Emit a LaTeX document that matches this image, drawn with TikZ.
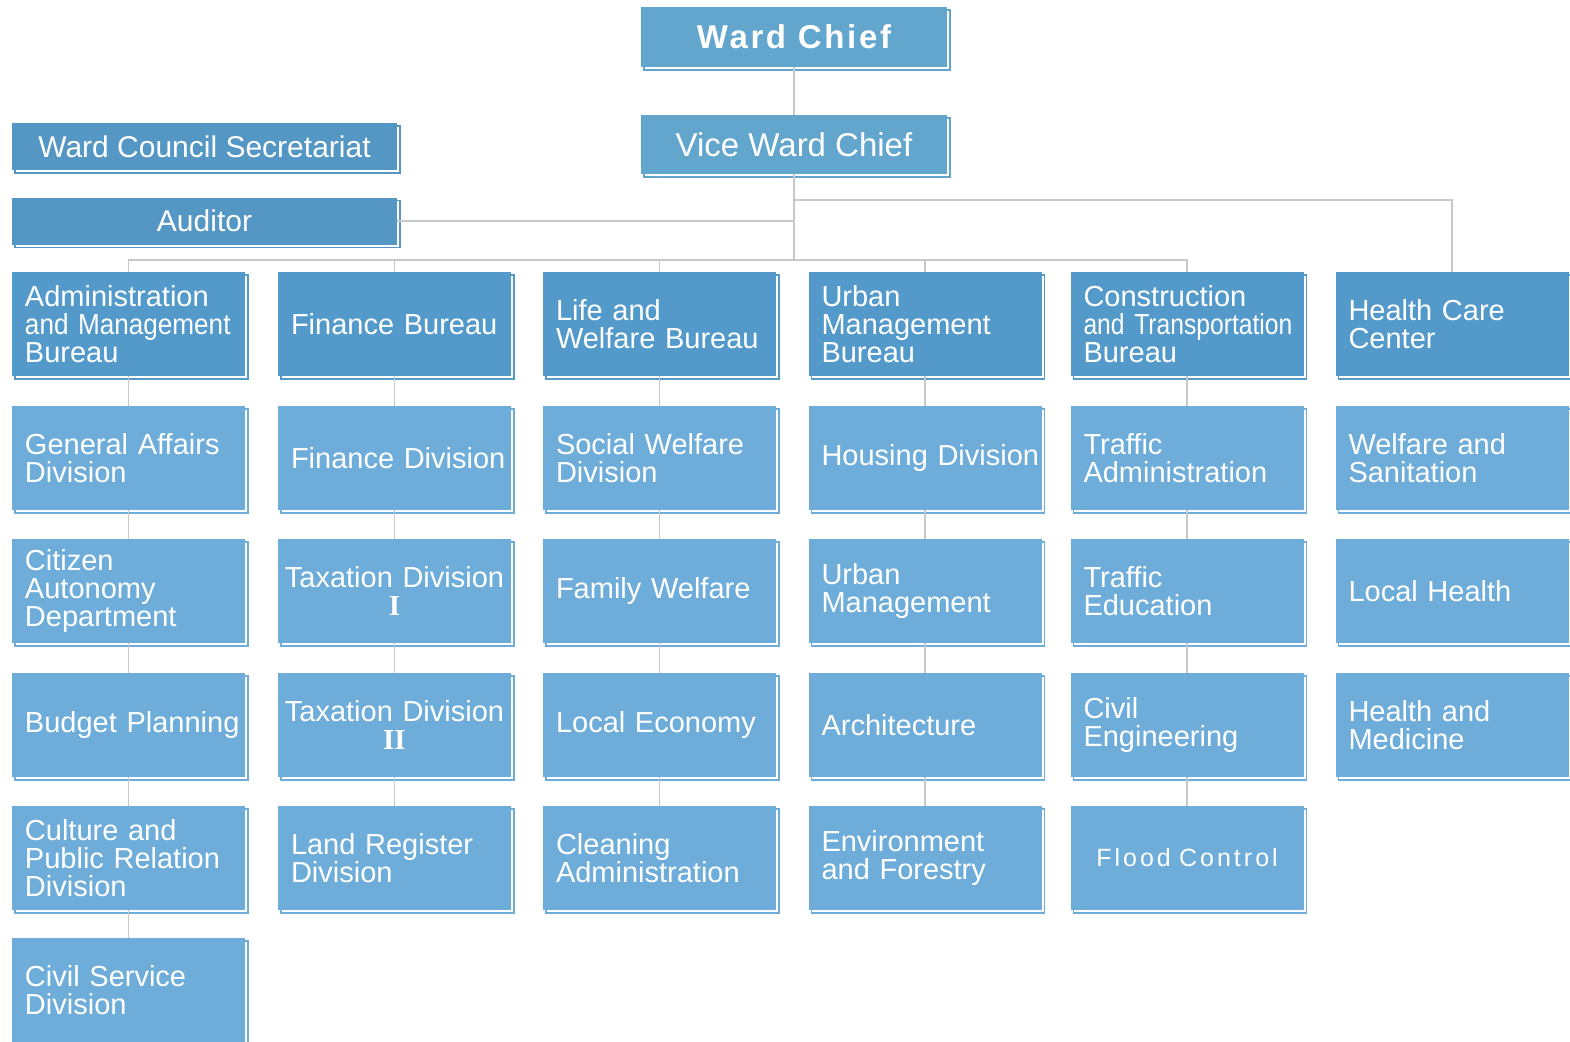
\documentclass[tikz,border=0pt]{standalone}
\usepackage{fontspec}
\setmainfont{Liberation Sans}
\newfontfamily\numfont{Liberation Serif}
\newfontface\narrowfont{Liberation Sans}[FakeStretch=0.9]
\newfontface\narrowerfont{Liberation Sans}[FakeStretch=0.85]
\usetikzlibrary{shadows}
\definecolor{chiefblue}{RGB}{98,166,206}
\definecolor{sideblue}{RGB}{84,151,197}
\definecolor{bureaublue}{RGB}{83,154,203}
\definecolor{divblue}{RGB}{110,173,217}
\definecolor{linegray}{RGB}{200,200,200}
\hfuzz=30pt
\hyphenpenalty=10000
\exhyphenpenalty=10000
\begin{document}
\begin{tikzpicture}[x=0.5pt,y=-0.5pt,
	box/.style={rectangle,inner sep=0pt,text=white,fill=#1,
		general shadow={draw=#1,fill=white,line width=0.75pt,shadow xshift=1.5pt,shadow yshift=-1.5pt}},
	unit/.style={box=#1,minimum width=116.5pt,minimum height=52pt,text width=103.5pt,align=left,
		font=\fontsize{14.5}{14}\selectfont},
	bureau/.style={unit=bureaublue},
	division/.style={unit=divblue},
	chief/.style={box=chiefblue,minimum width=153pt,minimum height=30pt},
	side/.style={box=sideblue,minimum width=192.5pt,minimum height=23.5pt,font=\fontsize{15}{16}\selectfont},
	conn/.style={draw=linegray,line width=0.85pt}]
\useasboundingbox (0,0) rectangle (1570,1041);
\node[chief,font={\fontsize{16.5}{18}\selectfont\bfseries\addfontfeatures{LetterSpace=8}}] (wc) at (794,37) {Ward Chief};
\node[chief,minimum height=29.5pt,font=\fontsize{16.5}{18}\selectfont] (vwc) at (794,144.5) {Vice Ward Chief};
\node[side] (wcs) at (204.5,146.5) {Ward Council Secretariat};
\node[side] (aud) at (204.5,221) {Auditor};
% bureaus
\node[bureau] (adm) at (128.5,324) {Administration\\\mbox{\narrowfont and Management}\\Bureau};
\node[bureau] (fin) at (394.5,324) {\mbox{Finance Bureau}};
\node[bureau] (life) at (659.5,324) {Life and\\Welfare Bureau};
\node[bureau] (urb) at (925,324) {Urban\\Management\\Bureau};
\node[bureau] (con) at (1187,324) {Construction\\\mbox{\narrowerfont and Transportation}\\Bureau};
\node[bureau] (hcc) at (1452,324) {Health Care\\Center};
% divisions
\node[division] (ga) at (128.5,458) {General Affairs\\Division};
\node[division] (cad) at (128.5,591) {Citizen\\Autonomy\\Department};
\node[division] (bp) at (128.5,725) {\mbox{Budget Planning}};
\node[division] (cpr) at (128.5,858) {Culture and\\Public Relation\\Division};
\node[division] (csd) at (128.5,990) {Civil Service\\Division};
\node[division] (fd) at (394.5,458) {\mbox{Finance Division}};
\node[division,align=center,text width=112pt] (td1) at (394.5,591) {Taxation Division\\{\numfont\bfseries I}};
\node[division,align=center,text width=112pt] (td2) at (394.5,725) {Taxation Division\\{\numfont\bfseries II}};
\node[division] (lrd) at (394.5,858) {Land Register\\Division};
\node[division] (swd) at (659.5,458) {Social Welfare\\Division};
\node[division] (fw) at (659.5,591) {Family Welfare};
\node[division] (le) at (659.5,725) {Local Economy};
\node[division] (cla) at (659.5,858) {Cleaning\\Administration};
\node[division] (hd) at (925,458) {\mbox{Housing Division}};
\node[division] (um) at (925,591) {Urban\\Management};
\node[division] (arc) at (925,725) {Architecture};
\node[division] (ef) at (925,858) {Environment\\and Forestry};
\node[division] (ta) at (1187,458) {Traffic\\Administration};
\node[division] (te) at (1187,591) {Traffic\\Education};
\node[division] (ce) at (1187,725) {Civil\\Engineering};
\node[division,align=center,font={\fontsize{12.5}{14}\selectfont\addfontfeatures{LetterSpace=12}}] (fc) at (1187,858) {Flood Control};
\node[division] (ws) at (1452,458) {Welfare and\\Sanitation};
\node[division] (lh) at (1452,591) {Local Health};
\node[division] (hm) at (1452,725) {Health and\\Medicine};
% connectors
\coordinate (bus) at (794,260);
\coordinate (hbus) at (794,200);
\draw[conn] (wc) -- (vwc);
\draw[conn] (vwc.south) -- (bus);
\foreach \b in {adm,fin,life,urb,con}
	\draw[conn] (\b.north) |- (bus);
\draw[conn] (hcc.north) |- (hbus);
\draw[conn] (aud.east) -- (aud.east -| bus);
\foreach \a/\b in {adm/ga,ga/cad,cad/bp,bp/cpr,cpr/csd,
	fin/fd,fd/td1,td1/td2,td2/lrd,
	life/swd,swd/fw,fw/le,le/cla,
	urb/hd,hd/um,um/arc,arc/ef,
	con/ta,ta/te,te/ce,ce/fc}
	\draw[conn] (\a.south) -- (\b.north);
\end{tikzpicture}
\end{document}
